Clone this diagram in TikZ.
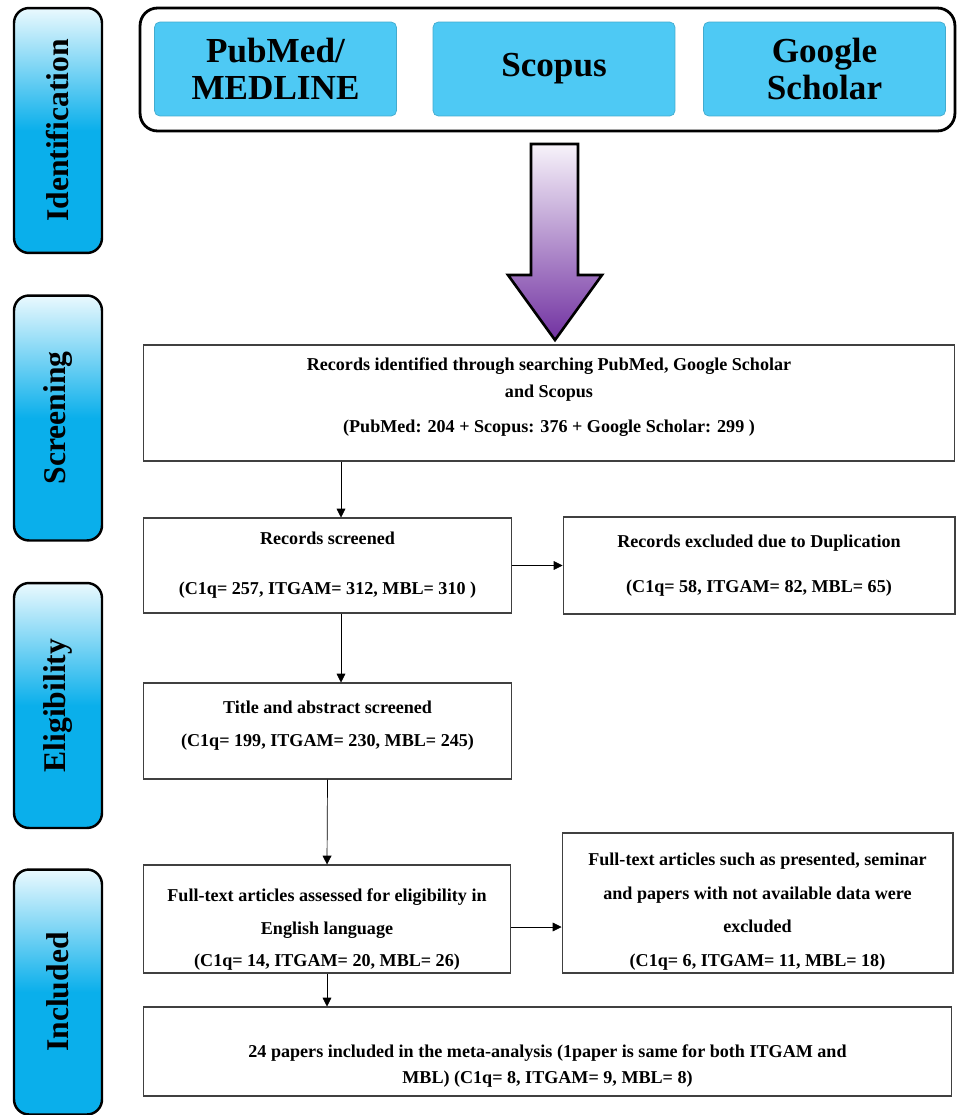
\documentclass[tikz,border=0pt]{standalone}
\usepackage{fontspec}
\setmainfont{Liberation Serif}
\usetikzlibrary{arrows.meta,calc,shadings}
\definecolor{tabblue}{HTML}{0AAFEB}
\definecolor{tablight}{HTML}{EAF9FE}
\definecolor{dbblue}{HTML}{4EC9F4}
\definecolor{arrtop}{HTML}{F7F3FA}
\definecolor{arrpurple}{HTML}{7131A1}
\pgfdeclareverticalshading{tabshade}{100bp}{color(0bp)=(tabblue); color(50bp)=(tabblue);
  color(75bp)=(tablight); color(100bp)=(tablight)}

\begin{document}
\begin{tikzpicture}[x=0.02cm,y=-0.02cm,
    >={Triangle[width=5pt,length=5pt]},
    box/.style={draw=black!75,line width=0.6pt,align=center,inner sep=0pt,
      font=\bfseries\fontsize{10.3}{15}\selectfont},
    tab/.style={draw,line width=1.4pt,rounded corners=0.3cm,shading=tabshade,
      minimum width=1.76cm,minimum height=4.9cm,font=\bfseries\fontsize{18}{20}\selectfont},
    db/.style={fill=dbblue,draw=dbblue!85!black,line width=0.4pt,rounded corners=3pt,
      minimum width=4.84cm,minimum height=1.88cm,align=center,
      font=\bfseries\fontsize{20}{21}\selectfont}]
  \useasboundingbox(0,0)rectangle(957,1115);
  % stage tabs
  \node[tab](ident)at(58,130.5){\rotatebox{90}{Identification}};
  \node[tab](screen)at(58,418){\rotatebox{90}{Screening}};
  \node[tab](elig)at(58,705.5){\rotatebox{90}{Eligibility}};
  \node[tab](incl)at(58,992){\rotatebox{90}{Included}};
  % databases
  \node[draw,line width=1.6pt,rounded corners=0.35cm,minimum width=16.3cm,
    minimum height=2.46cm](dbs)at(547.5,69.5){};
  \node[db](pubmed)at(275.5,69){PubMed/\\MEDLINE};
  \node[db](scopus)at(554,69){Scopus};
  \node[db](scholar)at(824.5,69){Google\\Scholar};
  \draw[line width=1.5pt,top color=arrtop,bottom color=arrpurple]
    (531,144)--(578,144)--(578,275)--(602,275)--(555,340)--(508,275)--(531,275)--cycle;
  % flow boxes
  \node[box,minimum width=16.24cm,minimum height=2.32cm](found)at(549,403)
    {Records identified through searching PubMed, Google Scholar\\[0.5pt]
     and Scopus\\[5pt]
     (PubMed: 204 + Scopus: 376 + Google Scholar: 299 )\rule[-9pt]{0pt}{9pt}};
  \node[box,minimum width=7.38cm,minimum height=1.9cm](screened)at(327.5,565.5)
    {Records screened\\[13.5pt](C1q= 257, ITGAM= 312, MBL= 310 )};
  \node[box,minimum width=7.84cm,minimum height=1.94cm](dupl)at(759,565.5)
    {Records excluded due to Duplication\\[11pt](C1q= 58, ITGAM= 82, MBL= 65)};
  \node[box,minimum width=7.38cm,minimum height=1.92cm](title)at(327.5,731)
    {Title and abstract screened\\[4pt](C1q= 199, ITGAM= 230, MBL= 245)\rule[-8pt]{0pt}{8pt}};
  \node[box,minimum width=7.36cm,minimum height=2.16cm](full)at(327,919)
    {\rule{0pt}{19pt}Full-text articles assessed for eligibility in\\[4pt]
     English language\\[3pt](C1q= 14, ITGAM= 20, MBL= 26)};
  \node[box,minimum width=7.82cm,minimum height=2.8cm](excl)at(757.5,903)
    {\rule{0pt}{17pt}Full-text articles such as presented, seminar\\[4pt]
     and papers with not available data were\\[4pt]excluded\\[4pt]
     (C1q= 6, ITGAM= 11, MBL= 18)};
  \node[box,minimum width=16.18cm,minimum height=1.78cm](final)at(547.5,1051.5)
    {\rule{0pt}{24pt}24 papers included in the meta-analysis (1paper is same for both ITGAM and\\[-0.5pt]
     MBL) (C1q= 8, ITGAM= 9, MBL= 8)};
  % connectors
  \draw[->,thin]([xshift=0.27cm]screened.north|-found.south)--([xshift=0.27cm]screened.north);
  \draw[->,thin](screened.east|-dupl.west)--(dupl.west);
  \draw[->,thin]([xshift=0.27cm]screened.south)--([xshift=0.27cm]title.north);
  \draw[->,thin](title.south)--(full.north);
  \draw[->,thin]([yshift=-0.16cm]full.east)--([yshift=-0.16cm]full.east-|excl.west);
  \draw[->,thin](full.south)--(full.south|-final.north);
\end{tikzpicture}
\end{document}
